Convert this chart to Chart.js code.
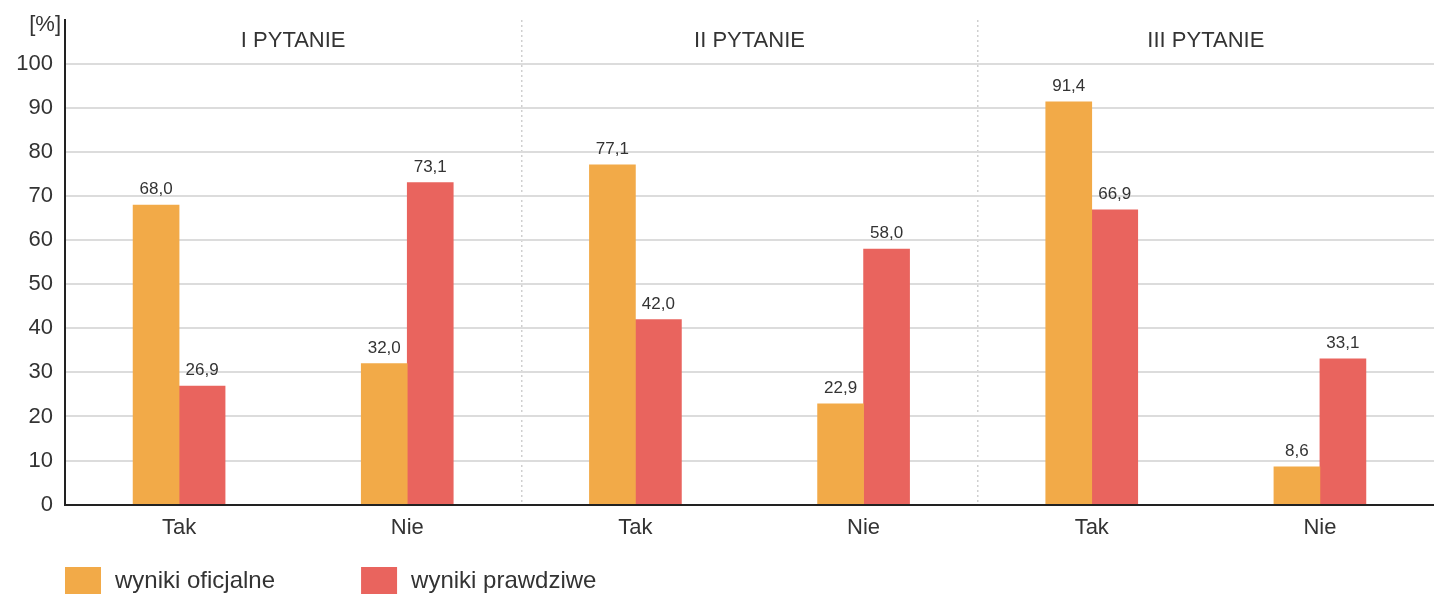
<!DOCTYPE html>
<html>
<head>
<meta charset="utf-8">
<script src="https://cdn.jsdelivr.net/npm/chart.js@4/dist/chart.umd.min.js"></script>
<style>
  html, body { margin: 0; padding: 0; background: #fff; }
  #wrap { width: 1434px; height: 594px; position: relative; }
</style>
</head>
<body>
<div id="wrap"><canvas id="chart"></canvas></div>
<script>
const categories = ["Tak", "Nie", "Tak", "Nie", "Tak", "Nie"];
const groups = ["I PYTANIE", "II PYTANIE", "III PYTANIE"];
const oficjalne = [68.0, 32.0, 77.1, 22.9, 91.4, 8.6];
const prawdziwe = [26.9, 73.1, 42.0, 58.0, 66.9, 33.1];
const seriesNames = ["wyniki oficjalne", "wyniki prawdziwe"];
const yTicks = [0, 10, 20, 30, 40, 50, 60, 70, 80, 90, 100];

const FONT = "'Liberation Sans', Arial, Helvetica, sans-serif";
const TEXT = "#333333";
const ORANGE = "#F2AA48";
const RED = "#E9645E";

const fmt = (v) => v.toFixed(1).replace(".", ",");

// etykiety wartości nad słupkami
const valueLabels = {
  id: "valueLabels",
  afterDatasetsDraw(chart) {
    const ctx = chart.ctx;
    ctx.save();
    ctx.font = "17px " + FONT;
    ctx.fillStyle = TEXT;
    ctx.textAlign = "center";
    ctx.textBaseline = "alphabetic";
    chart.data.datasets.forEach((ds, i) => {
      chart.getDatasetMeta(i).data.forEach((bar, j) => {
        ctx.fillText(fmt(ds.data[j]), bar.x, bar.y - 11);
      });
    });
    ctx.restore();
  },
};

// nagłówki grup, [%] i legenda
const extras = {
  id: "extras",
  afterDraw(chart) {
    const ctx = chart.ctx;
    const x = chart.scales.x;
    const area = chart.chartArea;
    ctx.save();
    ctx.fillStyle = TEXT;
    ctx.font = "22px " + FONT;
    ctx.textBaseline = "middle";
    ctx.textAlign = "center";
    groups.forEach((g, i) => {
      const cx = (x.getPixelForValue(2 * i) + x.getPixelForValue(2 * i + 1)) / 2;
      ctx.fillText(g, cx, 41);
    });
    ctx.textAlign = "right";
    ctx.fillText("[%]", area.left - 4, 25);

    // legenda
    ctx.font = "24px " + FONT;
    ctx.textAlign = "left";
    let lx = area.left;
    chart.data.datasets.forEach((ds) => {
      ctx.fillStyle = ds.backgroundColor;
      ctx.fillRect(lx, 567, 36, 27);
      ctx.fillStyle = TEXT;
      ctx.fillText(ds.label, lx + 50, 581);
      lx += 50 + ctx.measureText(ds.label).width + 86;
    });
    ctx.restore();
  },
};

new Chart(document.getElementById("chart"), {
  type: "bar",
  data: {
    labels: categories,
    datasets: [
      { label: seriesNames[0], data: oficjalne, backgroundColor: ORANGE, barThickness: 46 },
      { label: seriesNames[1], data: prawdziwe, backgroundColor: RED, barThickness: 46 },
    ],
  },
  options: {
    responsive: true,
    maintainAspectRatio: false,
    animation: false,
    layout: { padding: { left: 0, right: 0, top: 20, bottom: 43 } },
    plugins: {
      legend: { display: false },
      tooltip: { enabled: false },
    },
    scales: {
      x: {
        offset: true,
        grid: {
          offset: true,
          drawTicks: false,
          lineWidth: 1.5,
          color: (c) => (c.index === 2 || c.index === 4 ? "#cfcfcf" : "rgba(0,0,0,0)"),
        },
        border: { display: true, color: "#222", width: 2, dash: [2, 3] },
        ticks: {
          color: TEXT,
          font: { family: FONT, size: 22 },
          padding: 10,
          maxRotation: 0,
        },
      },
      y: {
        min: 0,
        max: 110,
        afterBuildTicks: (axis) => {
          axis.ticks = yTicks.concat([110]).map((v) => ({ value: v }));
        },
        afterFit: (axis) => {
          axis.width = 65;
          axis.paddingTop = 0;
          axis.paddingBottom = 0;
        },
        grid: {
          drawTicks: false,
          lineWidth: 2,
          color: (c) => (c.tick && c.tick.value > 100 ? "rgba(0,0,0,0)" : "#dcdcdc"),
        },
        border: { display: true, color: "#222", width: 2 },
        ticks: {
          color: TEXT,
          font: { family: FONT, size: 22 },
          padding: 12,
          callback: (v) => (v > 100 ? "" : v),
        },
      },
    },
  },
  plugins: [valueLabels, extras],
});
</script>
</body>
</html>
